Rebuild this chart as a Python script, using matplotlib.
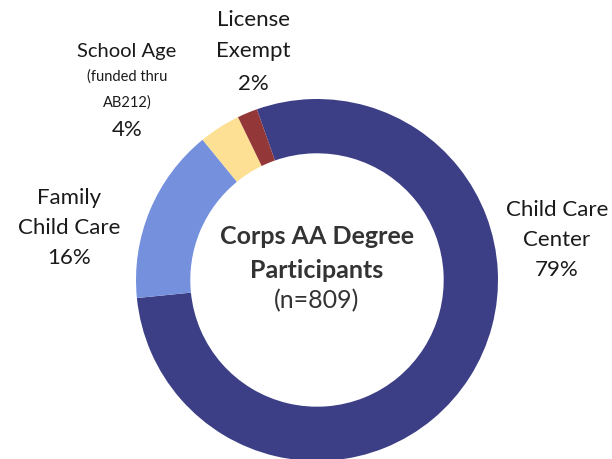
import matplotlib
matplotlib.use("Agg")
import matplotlib.pyplot as plt

categories = ["Child Care Center", "Family Child Care", "School Age", "License Exempt"]
values = [78.8, 15.7, 3.7, 1.8]
pct_labels = ["79%", "16%", "4%", "2%"]
colors = ["#3C3F86", "#7591DE", "#FDE093", "#933739"]
center_title = ["Corps AA Degree", "Participants"]
center_n = "(n=809)"

plt.rcParams['font.family'] = ['Lato', 'DejaVu Sans']

fig = plt.figure(figsize=(6.12, 4.6), dpi=100)
ax = fig.add_axes([0, 0, 1, 1])

H = 460
cx, cy, R = 317, H - 281, 181
ax.pie(values, colors=colors, startangle=109.4, counterclock=False,
       center=(cx, cy), radius=R, frame=True,
       wedgeprops=dict(width=R * 0.30, linewidth=0))
ax.set_xlim(0, 612)
ax.set_ylim(0, H)
ax.set_aspect('equal')
ax.axis('off')

tc = "#1a1a1a"
fs = 16

def lines(x, ys, texts, sizes):
    for y, t, s in zip(ys, texts, sizes):
        ax.text(x, H - y, t, ha='center', va='center', fontsize=s, color=tc)

# License Exempt
lines(253, [20, 51, 84], ["License", "Exempt", pct_labels[3]], [fs, fs, fs])
# School Age
lines(127, [52, 77, 103, 130], ["School Age", "(funded thru", "AB212)", pct_labels[2]],
      [14.5, 10.5, 10.5, fs])
# Family Child Care
lines(69, [198, 228, 258], ["Family", "Child Care", pct_labels[1]], [fs, fs, fs])
# Child Care Center
lines(557, [210, 240, 270], ["Child Care", "Center", pct_labels[0]], [fs, fs, fs])

# Center text
ax.text(cx, H - 237, center_title[0], ha='center', va='center', fontsize=18,
        fontweight='bold', color="#333333")
ax.text(cx, H - 270, center_title[1], ha='center', va='center', fontsize=18,
        fontweight='bold', color="#333333")
ax.text(cx, H - 301, center_n, ha='center', va='center', fontsize=18, color="#333333")

fig.savefig("out.png", dpi=100)
